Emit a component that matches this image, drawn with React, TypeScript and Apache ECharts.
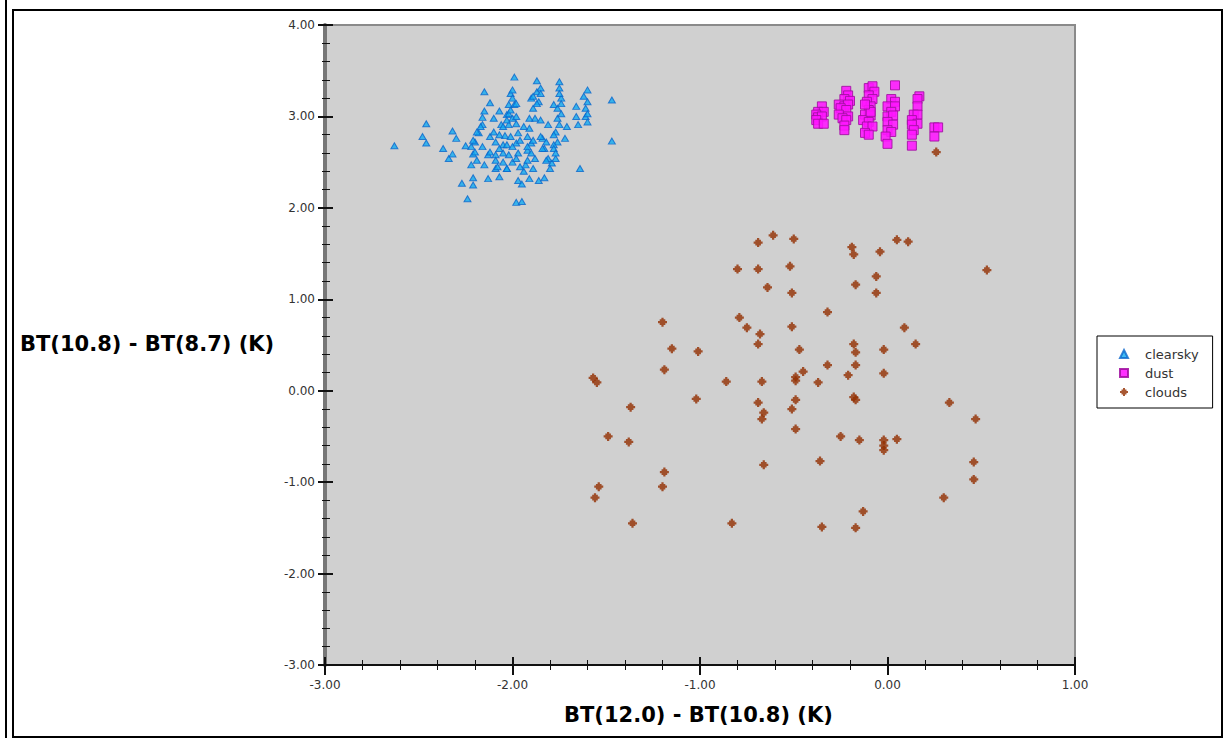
import React, { useEffect, useRef } from "react";
import * as echarts from "echarts";

const xTitle = "BT(12.0) - BT(10.8) (K)";
const yTitle = "BT(10.8) - BT(8.7) (K)";
const seriesNames = ["clearsky", "dust", "clouds"];

const clearsky: [number, number][] = [
  [-2.63, 2.68], [-2.46, 2.92], [-2.48, 2.78], [-2.46, 2.71], [-2.37, 2.65], [-2.34, 2.54],
  [-2.32, 2.59], [-2.32, 2.84], [-2.3, 2.76], [-2.27, 2.27], [-2.24, 2.1], [-2.21, 2.25],
  [-2.25, 2.68], [-2.22, 2.47], [-2.21, 2.33], [-2.15, 3.27], [-2.12, 3.15], [-2.15, 3.06],
  [-2.16, 2.99], [-2.16, 2.91], [-2.18, 2.82], [-2.2, 2.72], [-2.22, 2.67], [-2.21, 2.59],
  [-2.19, 2.52], [-2.2, 2.61], [-2.15, 2.47], [-2.13, 2.32], [-2.16, 2.67], [-2.12, 2.78],
  [-2.1, 2.83], [-2.1, 2.98], [-2.07, 3.06], [-2.13, 2.58], [-2.09, 2.58], [-2.09, 2.43],
  [-2.07, 2.34], [-2.05, 2.5], [-2.05, 2.69], [-2.06, 2.91], [-2.03, 3.02], [-2.04, 2.79],
  [-2.02, 2.58], [-2.03, 2.43], [-2.02, 3.13], [-2.01, 3.25],
  [-1.99, 3.43], [-1.87, 3.39], [-1.87, 3.27], [-2.0, 3.29], [-2.0, 3.2], [-1.99, 3.13],
  [-2.02, 3.03], [-2.0, 2.98], [-2.02, 2.91], [-1.98, 2.92], [-1.97, 2.82], [-2.01, 2.78],
  [-1.98, 2.71], [-2.03, 2.69], [-1.97, 2.6], [-2.0, 2.5], [-2.03, 2.43], [-1.97, 2.3],
  [-1.95, 2.26], [-1.98, 2.06], [-1.95, 2.07], [-1.91, 2.32], [-1.86, 2.3], [-1.83, 2.33],
  [-1.94, 2.4], [-1.93, 2.47], [-1.88, 2.54], [-1.92, 2.63], [-1.9, 2.71], [-1.92, 2.78],
  [-1.91, 2.87], [-1.88, 2.98], [-1.89, 3.09], [-1.86, 3.16], [-1.9, 3.2], [-1.85, 3.31],
  [-1.84, 2.76], [-1.83, 2.65], [-1.81, 2.91], [-1.79, 2.49], [-1.81, 2.54], [-1.8, 2.43],
  [-1.77, 2.54], [-1.78, 3.13], [-1.75, 3.38], [-1.75, 3.31], [-1.74, 3.2], [-1.76, 3.09],
  [-1.76, 2.98], [-1.75, 2.91], [-1.77, 2.83], [-1.76, 2.72], [-1.78, 2.69], [-1.71, 2.89],
  [-1.72, 2.76], [-1.66, 3.11], [-1.66, 3.0], [-1.65, 2.91], [-1.61, 3.09], [-1.62, 3.22],
  [-1.6, 3.29], [-1.6, 3.16], [-1.61, 3.0], [-1.6, 2.94], [-1.64, 2.43], [-1.47, 3.18],
  [-1.47, 2.73],
  [-1.85, 3.25], [-1.89, 3.22], [-1.98, 3.14], [-1.87, 3.14], [-1.75, 3.25], [-1.74, 3.14],
  [-2.01, 3.07], [-1.74, 3.03], [-1.6, 3.03], [-2.03, 2.96], [-1.98, 3.0], [-1.91, 2.98],
  [-1.85, 2.96], [-2.17, 2.89], [-2.05, 2.89], [-1.94, 2.89], [-2.19, 2.83], [-2.07, 2.8],
  [-1.85, 2.78], [-1.78, 2.8], [-2.21, 2.74], [-2.09, 2.72], [-1.96, 2.74], [-1.89, 2.74],
  [-1.82, 2.72], [-2.07, 2.65], [-2.0, 2.67], [-1.92, 2.67], [-1.84, 2.65], [-1.78, 2.65],
  [-2.12, 2.61], [-2.05, 2.6], [-1.9, 2.6], [-1.77, 2.6], [-2.09, 2.52], [-1.98, 2.54],
  [-1.92, 2.52], [-1.82, 2.52], [-2.08, 2.45], [-1.96, 2.45], [-1.89, 2.43]
];

const dust: [number, number][] = [
  [-0.35, 3.11], [-0.37, 3.05], [-0.34, 3.05], [-0.38, 3.02], [-0.37, 2.99], [-0.35, 3.0],
  [-0.38, 2.96], [-0.37, 2.92], [-0.34, 2.92],
  [-0.22, 3.28], [-0.21, 3.23], [-0.23, 3.19], [-0.2, 3.17], [-0.26, 3.13], [-0.23, 3.11],
  [-0.21, 3.13], [-0.25, 3.09], [-0.22, 3.07], [-0.26, 3.02], [-0.21, 3.0], [-0.24, 2.98],
  [-0.22, 2.96], [-0.23, 2.9], [-0.23, 2.85],
  [-0.1, 3.31], [-0.08, 3.33], [-0.07, 3.27], [-0.1, 3.23], [-0.08, 3.19], [-0.11, 3.16],
  [-0.09, 3.11], [-0.1, 3.07], [-0.12, 3.02], [-0.09, 3.01], [-0.13, 2.96], [-0.1, 2.94],
  [-0.11, 2.89], [-0.08, 2.89], [-0.12, 2.82], [-0.1, 2.8], [-0.09, 3.05], [-0.12, 3.13],
  [0.04, 3.34], [0.02, 3.19], [0.04, 3.16], [0.0, 3.11], [0.04, 3.11], [0.02, 3.05],
  [0.0, 3.0], [0.03, 3.01], [0.0, 2.94], [0.03, 2.91], [0.0, 2.85], [0.02, 2.83],
  [-0.01, 2.78], [0.0, 2.7],
  [0.17, 3.22], [0.16, 3.19], [0.16, 3.11], [0.14, 3.02], [0.16, 3.02], [0.13, 2.96],
  [0.16, 2.92], [0.13, 2.91], [0.14, 2.85], [0.13, 2.8], [0.13, 2.68],
  [0.25, 2.88], [0.27, 2.88], [0.25, 2.78]
];

const clouds: [number, number][] = [
  [-0.69, 1.62], [-0.61, 1.7], [-0.5, 1.66], [-0.8, 1.33], [-0.69, 1.33], [-0.52, 1.36],
  [-0.64, 1.13], [-0.51, 1.07], [-0.32, 0.86], [-1.2, 0.75], [-0.79, 0.8], [-0.75, 0.69],
  [-0.68, 0.62], [-0.51, 0.7], [-0.69, 0.51], [-1.15, 0.46], [-1.01, 0.43], [-0.47, 0.45],
  [-0.32, 0.28], [-0.45, 0.21], [-1.19, 0.23], [-1.57, 0.14], [-1.55, 0.09], [-0.86, 0.1],
  [-0.67, 0.1], [-0.49, 0.15], [-0.49, 0.11], [-0.37, 0.09], [-1.02, -0.09], [-1.37, -0.18],
  [-0.69, -0.13], [-0.66, -0.24], [-0.67, -0.31], [-0.51, -0.2], [-0.49, -0.1], [-1.49, -0.5],
  [-1.38, -0.56], [-0.49, -0.42], [-1.19, -0.89], [-0.66, -0.81], [-0.36, -0.77], [-1.54, -1.05],
  [-1.2, -1.05], [-1.56, -1.17], [-1.36, -1.45], [-0.83, -1.45], [-0.35, -1.49],
  [-0.19, 1.57], [-0.18, 1.49], [0.05, 1.65], [0.11, 1.63], [-0.04, 1.52], [0.53, 1.32],
  [-0.06, 1.25], [-0.17, 1.16], [-0.06, 1.07], [0.09, 0.69], [-0.18, 0.51], [-0.17, 0.42],
  [-0.02, 0.45], [0.15, 0.51], [-0.17, 0.28], [-0.21, 0.17], [-0.02, 0.19], [-0.18, -0.07],
  [-0.17, -0.1], [0.33, -0.13], [0.47, -0.31], [-0.25, -0.5], [-0.15, -0.54], [-0.02, -0.54],
  [-0.02, -0.6], [-0.02, -0.65], [0.05, -0.53], [0.46, -0.78], [0.46, -0.97], [0.3, -1.17],
  [-0.13, -1.32], [-0.17, -1.5], [0.26, 2.61]
];

const cloudSymbol =
  "path://M3,0 H5 V1.5 H6.5 V3 H8 V5 H6.5 V6.5 H5 V8 H3 V6.5 H1.5 V5 H0 V3 H1.5 V1.5 H3 Z";

const fmt = (v: number) => v.toFixed(2);
const labelStyle = { color: "#333", fontSize: 12, fontFamily: "DejaVu Sans" };

export default function App() {
  const ref = useRef<HTMLDivElement>(null);
  useEffect(() => {
    if (!ref.current) return;
    const chart = echarts.init(ref.current, undefined, { renderer: "svg" });
    const xCommon = { type: "value", min: -3, max: 1, interval: 1, splitLine: { show: false } };
    const yCommon = { type: "value", min: -3, max: 4, interval: 1, splitLine: { show: false } };
    chart.setOption({
      animation: false,
      backgroundColor: "#fff",
      grid: {
        left: 325, top: 25, width: 750, height: 640,
        show: true, backgroundColor: "#d0d0d0", borderColor: "#8a8a8a", borderWidth: 2
      },
      xAxis: [
        {
          ...xCommon, position: "bottom",
          axisLine: { onZero: false, lineStyle: { color: "#111", width: 2 } },
          axisTick: { show: true, inside: false, length: 10, lineStyle: { color: "#111", width: 2 } },
          minorTick: { show: true, splitNumber: 5, length: 5, lineStyle: { color: "#111", width: 1 } },
          axisLabel: { ...labelStyle, margin: 14, formatter: fmt }
        },
        {
          ...xCommon, position: "bottom",
          axisLine: { show: false, onZero: false },
          axisTick: { show: true, inside: true, length: 8, lineStyle: { color: "#111", width: 2 } },
          minorTick: { show: true, splitNumber: 5, length: 5, lineStyle: { color: "#111", width: 1 } },
          axisLabel: { show: false }
        }
      ],
      yAxis: [
        {
          ...yCommon, position: "left",
          axisLine: { show: true, onZero: false, lineStyle: { color: "#777", width: 4 } },
          axisTick: { show: true, inside: false, length: 7, lineStyle: { color: "#111", width: 2 } },
          minorTick: { show: true, splitNumber: 5, length: 3, lineStyle: { color: "#111", width: 1 } },
          axisLabel: { ...labelStyle, margin: 10, formatter: fmt }
        },
        {
          ...yCommon, position: "left",
          axisLine: { show: false, onZero: false },
          axisTick: { show: true, inside: true, length: 8, lineStyle: { color: "#111", width: 2 } },
          minorTick: { show: true, splitNumber: 5, length: 5, lineStyle: { color: "#111", width: 1 } },
          axisLabel: { show: false }
        }
      ],
      legend: {
        data: seriesNames,
        orient: "vertical",
        left: 1097, top: 336,
        padding: [11, 14, 9, 22],
        itemWidth: 8, itemHeight: 8, itemGap: 5,
        backgroundColor: "#fff", borderColor: "#000", borderWidth: 1, borderRadius: 0,
        textStyle: {
          color: "#333", fontSize: 13, lineHeight: 14, fontFamily: "DejaVu Sans",
          padding: [0, 0, 0, 12]
        }
      },
      series: [
        {
          name: seriesNames[0], type: "scatter", symbol: "triangle", symbolSize: [7, 6],
          itemStyle: { color: "#10aaf0", borderColor: "#0a66cc", borderWidth: 1 },
          data: clearsky
        },
        {
          name: seriesNames[1], type: "scatter", symbol: "rect", symbolSize: 9,
          itemStyle: { color: "#ff14ff", borderColor: "#a010a0", borderWidth: 1, opacity: 0.88 },
          data: dust
        },
        {
          name: seriesNames[2], type: "scatter", symbol: cloudSymbol, symbolSize: 9,
          itemStyle: { color: "#922e00" },
          data: clouds
        }
      ],
      graphic: [
        { type: "line", shape: { x1: 6, y1: 0, x2: 6, y2: 738 }, style: { stroke: "#000", lineWidth: 2 } },
        { type: "rect", shape: { x: 13, y: 10, width: 1209, height: 727 }, style: { fill: "none", stroke: "#000", lineWidth: 2 } },
        {
          type: "text", left: 20, top: 333,
          style: { text: yTitle, fill: "#000", font: "bold 21px 'DejaVu Sans'" }
        },
        {
          type: "text", left: 564, top: 704,
          style: { text: xTitle, fill: "#000", font: "bold 21px 'DejaVu Sans'" }
        }
      ]
    });
    return () => chart.dispose();
  }, []);
  return (
    <div
      ref={ref}
      style={{ position: "fixed", left: 0, top: 0, width: 1226, height: 738 }}
    />
  );
}
